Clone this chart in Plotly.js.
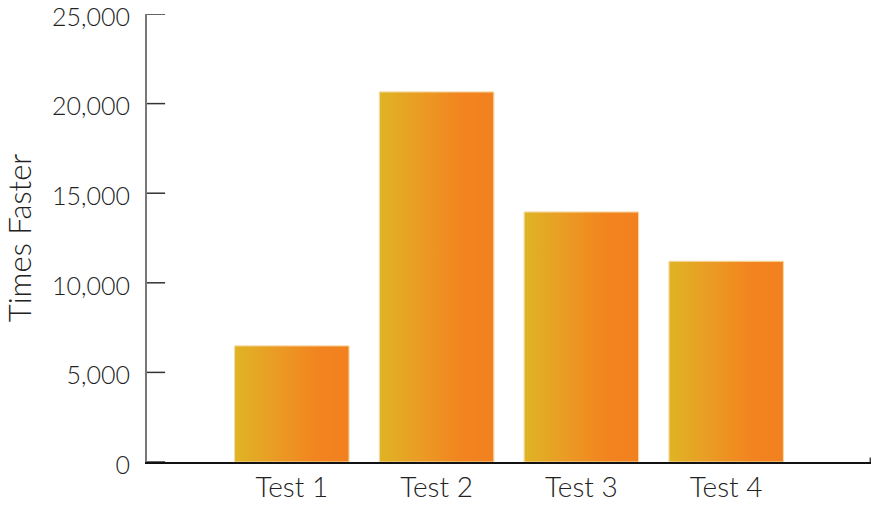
<!DOCTYPE html>
<html>
<head>
<meta charset="utf-8">
<script src="https://cdn.plot.ly/plotly-3.0.1.min.js"></script>
<style>html,body{margin:0;padding:0;background:#fff;}#chart{width:873px;height:509px;}</style>
</head>
<body>
<div id="chart"></div>
<script>
const categories = ["Test 1", "Test 2", "Test 3", "Test 4"];
const timesFaster = [6480, 20650, 13950, 11200];
const yTickValues = [0, 5000, 10000, 15000, 20000, 25000];
const yTickLabels = ["0", "5,000", "10,000", "15,000", "20,000", "25,000"];

const barWidth = 0.79;
const positions = categories.map((_, i) => i);

const traces = [{
  type: 'bar',
  x: positions,
  y: timesFaster,
  width: barWidth,
  marker: {color: '#ee8c22', line: {color: '#f7e3b0', width: 1}},
  hoverinfo: 'none',
  showlegend: false
}];

// horizontal gradient overlay for each bar, built from the same data
positions.forEach((p, i) => {
  const l = p - barWidth / 2, r = p + barWidth / 2, v = timesFaster[i];
  traces.push({
    type: 'scatter',
    mode: 'lines',
    x: [l, l, r, r, l],
    y: [0, v, v, 0, 0],
    fill: 'toself',
    fillgradient: {
      type: 'horizontal',
      colorscale: [[0, '#dfb424'], [0.35, '#ea9c24'], [0.7, '#f2851f'], [1, '#f2801f']]
    },
    line: {color: '#f6dcae', width: 1},
    hoverinfo: 'none',
    showlegend: false
  });
});

// inward tick marks on the value axis, one per tick value
const tickShapes = yTickValues.map(v => ({
  type: 'line', xref: 'paper', yref: 'y',
  x0: 0, x1: 0.025, y0: v, y1: v,
  line: {color: '#333333', width: 1.5},
  layer: 'above'
}));
// small end tick at the right end of the category axis
tickShapes.push({
  type: 'line', xref: 'paper', yref: 'paper',
  x0: 0.999, x1: 0.999, y0: 0, y1: 0.01,
  line: {color: '#444444', width: 1.5},
  layer: 'above'
});

const layout = {
  width: 873,
  height: 509,
  margin: {l: 147, r: 2, t: 14, b: 47},
  paper_bgcolor: '#ffffff',
  plot_bgcolor: '#ffffff',
  font: {family: 'Lato, "Open Sans", sans-serif', color: '#222222', weight: 300},
  showlegend: false,
  shapes: tickShapes,
  xaxis: {
    type: 'linear',
    range: [-1, 4],
    tickmode: 'array',
    tickvals: positions,
    ticktext: categories,
    showgrid: false,
    zeroline: false,
    showline: true,
    linecolor: '#111111',
    linewidth: 1.5,
    ticks: '',
    tickfont: {size: 28, family: 'Lato, sans-serif', color: '#222222', weight: 300},
    fixedrange: true
  },
  yaxis: {
    type: 'linear',
    range: [0, 25000.5],
    tickmode: 'array',
    tickvals: yTickValues,
    ticktext: yTickLabels,
    showgrid: false,
    zeroline: false,
    showline: true,
    linecolor: '#777777',
    linewidth: 2,
    ticks: '',
    ticklabeloverflow: 'allow',
    ticklabelstandoff: 10,
    ticklabelshift: 3,
    tickfont: {size: 25, family: 'Lato, sans-serif', color: '#222222', weight: 300},
    title: {text: 'Times Faster', font: {size: 31, family: 'Lato, sans-serif', color: '#222222', weight: 300}, standoff: 16},
    fixedrange: true
  }
};

Plotly.newPlot('chart', traces, layout, {staticPlot: true, displayModeBar: false});
</script>
</body>
</html>
